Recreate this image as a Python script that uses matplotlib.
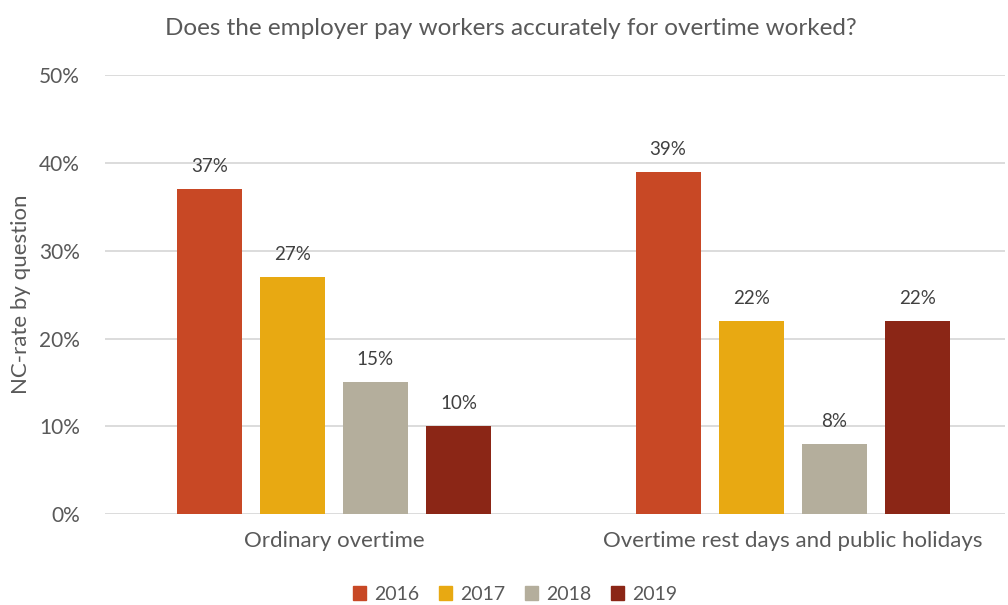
import matplotlib.pyplot as plt
from matplotlib.patches import Patch

plt.rcParams['font.family'] = ['Lato', 'DejaVu Sans']

categories = ["Ordinary overtime", "Overtime rest days and public holidays"]
years = ["2016", "2017", "2018", "2019"]
values = {
    "2016": [37, 39],
    "2017": [27, 22],
    "2018": [15, 8],
    "2019": [10, 22],
}
colors = ["#C84825", "#E8A912", "#B4AE9C", "#8B2616"]

fig = plt.figure(figsize=(10.08, 6.05), dpi=100)
ax = fig.add_axes([0.104, 0.150, 0.893, 0.726])

step = 0.181
width = 0.142
for i, yr in enumerate(years):
    offset = (i - 1.5) * step
    xs = [c + offset for c in range(len(categories))]
    bars = ax.bar(xs, values[yr], width=width, color=colors[i], zorder=3)
    for b, v in zip(bars, values[yr]):
        ax.text(b.get_x() + b.get_width() / 2, v + 1.6, f"{v}%",
                ha="center", va="bottom", fontsize=13.5, color="#404040")

ax.set_xlim(-0.4995, 1.463)
ax.set_ylim(0, 50)
ax.set_yticks(range(0, 51, 10))
ax.set_yticklabels([f"{t}%" for t in range(0, 51, 10)])
ax.set_xticks(range(len(categories)))
ax.set_xticklabels(categories, fontsize=16)
ax.tick_params(length=0, labelcolor="#595959")
ax.tick_params(axis="x", pad=12)
ax.tick_params(axis="y", pad=18, labelsize=15)
ax.grid(axis="y", color="#D9D9D9", linewidth=1.3, zorder=0)
for s in ax.spines.values():
    s.set_visible(False)

ax.set_ylabel("NC-rate by question", fontsize=16, color="#595959", labelpad=6)
fig.text(0.507, 0.953, "Does the employer pay workers accurately for overtime worked?",
         ha="center", va="center", fontsize=17.5, color="#595959")

handles = [Patch(color=c) for c in colors]
fig.legend(handles, years, loc="center", bbox_to_anchor=(0.511, 0.018),
           ncol=4, frameon=False, fontsize=14, labelcolor="#595959",
           handlelength=0.7, handleheight=0.7, handletextpad=0.4,
           columnspacing=1.0, borderpad=0.1)

fig.savefig("out.png", dpi=100)
